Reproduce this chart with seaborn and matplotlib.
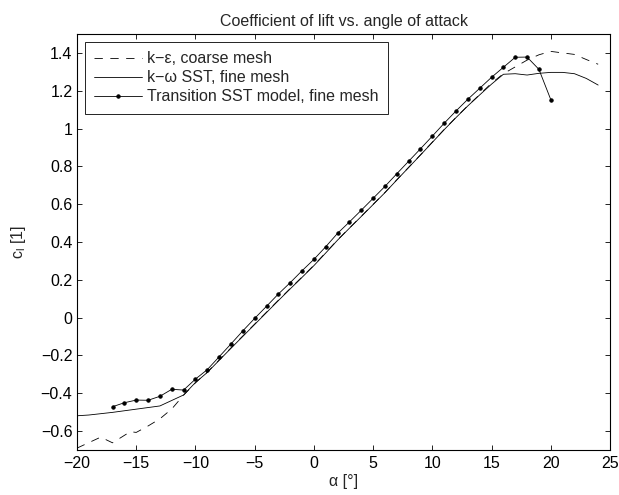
import matplotlib
matplotlib.use("Agg")
import matplotlib.pyplot as plt
import seaborn as sns
import pandas as pd
from matplotlib.ticker import FixedLocator, FixedFormatter

# --- data ---
alpha_ke = [-20, -18, -17, -15.5, -15, -14, -13, -12, -11, -10, -9, -8, -7, -6, -5, -4, -3, -2, -1,
            0, 1, 2, 3, 4, 5, 6, 7, 8, 9, 10, 11, 12, 13, 14, 15, 16, 17, 18, 19, 20, 21, 22, 23, 24]
cl_ke = [-0.69, -0.632, -0.662, -0.603, -0.607, -0.573, -0.535, -0.483, -0.41, -0.345, -0.288, -0.224,
         -0.160, -0.097, -0.034, 0.029, 0.092, 0.154, 0.215, 0.277, 0.344, 0.411, 0.474, 0.536, 0.599,
         0.662, 0.729, 0.795, 0.861, 0.928, 0.995, 1.059, 1.121, 1.180, 1.240, 1.290, 1.326, 1.362,
         1.390, 1.408, 1.400, 1.392, 1.365, 1.340]

alpha_kw = [-20, -19, -17, -15, -13, -11, -10, -9, -8, -7, -6, -5, -4, -3, -2, -1,
            0, 1, 2, 3, 4, 5, 6, 7, 8, 9, 10, 11, 12, 13, 14, 15, 16, 17, 18, 19, 20, 21, 22, 23, 24]
cl_kw = [-0.519, -0.515, -0.501, -0.484, -0.467, -0.409, -0.343, -0.290, -0.226, -0.162, -0.099,
         -0.036, 0.027, 0.090, 0.152, 0.213, 0.275, 0.342, 0.410, 0.473, 0.535, 0.598, 0.661, 0.728,
         0.794, 0.860, 0.927, 0.994, 1.058, 1.120, 1.178, 1.235, 1.287, 1.290, 1.283, 1.292, 1.297,
         1.297, 1.290, 1.265, 1.230]

alpha_tr = list(range(-17, 21))
cl_tr = [-0.471, -0.450, -0.436, -0.437, -0.416, -0.379, -0.383, -0.325, -0.275, -0.207, -0.139,
         -0.070, -0.004, 0.060, 0.125, 0.185, 0.248, 0.308, 0.375, 0.446, 0.506, 0.568, 0.631, 0.694,
         0.761, 0.827, 0.893, 0.960, 1.028, 1.093, 1.155, 1.213, 1.271, 1.324, 1.377, 1.378, 1.313,
         1.153]

labels = ["k\u2212\u03b5, coarse mesh", "k\u2212\u03c9 SST, fine mesh", "Transition SST model, fine mesh"]

xticks = [-20, -15, -10, -5, 0, 5, 10, 15, 20, 25]
xticklabels = ["\u221220", "\u221215", "\u221210", "\u22125", "0", "5", "10", "15", "20", "25"]
yticks = [-0.6, -0.4, -0.2, 0, 0.2, 0.4, 0.6, 0.8, 1.0, 1.2, 1.4]
yticklabels = ["\u22120.6", "\u22120.4", "\u22120.2", "0", "0.2", "0.4", "0.6", "0.8", "1", "1.2", "1.4"]

# --- style ---
sns.set_style("white")
plt.rcParams["font.family"] = ["Liberation Sans", "DejaVu Sans"]
plt.rcParams["mathtext.fontset"] = "custom"
plt.rcParams["mathtext.rm"] = "Liberation Sans"
plt.rcParams["mathtext.it"] = "Liberation Sans"
FS = 11.5
plt.rcParams["font.size"] = FS

fig = plt.figure(figsize=(6.19, 4.95), dpi=100)
ax = fig.add_axes([77 / 619, 45 / 495, 533 / 619, 416 / 495])

df_ke = pd.DataFrame({"a": alpha_ke, "c": cl_ke})
df_kw = pd.DataFrame({"a": alpha_kw, "c": cl_kw})
df_tr = pd.DataFrame({"a": alpha_tr, "c": cl_tr})

sns.lineplot(data=df_ke, x="a", y="c", ax=ax, color="black", lw=0.6, sort=False,
             estimator=None, label=labels[0], linestyle=(0, (10, 9)))
sns.lineplot(data=df_kw, x="a", y="c", ax=ax, color="black", lw=0.6, sort=False,
             estimator=None, label=labels[1])
sns.lineplot(data=df_tr, x="a", y="c", ax=ax, color="black", lw=0.6, sort=False,
             estimator=None, label=labels[2], marker="o", markersize=2.4,
             markeredgecolor="black", markerfacecolor="black")

ax.set_xlim(-20, 25)
ax.set_ylim(-0.7, 1.5)
ax.xaxis.set_major_locator(FixedLocator(xticks))
ax.xaxis.set_major_formatter(FixedFormatter(xticklabels))
ax.yaxis.set_major_locator(FixedLocator(yticks))
ax.yaxis.set_major_formatter(FixedFormatter(yticklabels))
ax.tick_params(direction="in", length=3.8, width=0.6, top=True, right=True,
               bottom=True, left=True, labelsize=FS, colors="black")
ax.tick_params(axis="x", pad=4.5)
ax.tick_params(axis="y", pad=3.3)
for s in ax.spines.values():
    s.set_linewidth(0.8)
    s.set_color("black")
    s.set_visible(True)

ax.set_xlabel("\u03b1 [\u00b0]", fontsize=FS, labelpad=2)
ax.set_ylabel("c$_\\mathrm{l}$ [1]", fontsize=FS, labelpad=9)
ax.set_title("Coefficient of lift vs. angle of attack", fontsize=FS, pad=6)

leg = ax.legend(loc="upper left", frameon=True, fancybox=False, fontsize=FS,
                handlelength=3.0, borderpad=0.6, labelspacing=0.25,
                borderaxespad=0.48, handletextpad=0.3)
leg.get_frame().set_edgecolor("black")
leg.get_frame().set_linewidth(0.6)
leg.get_frame().set_alpha(1)

fig.savefig("out.png", dpi=100, facecolor="white")
